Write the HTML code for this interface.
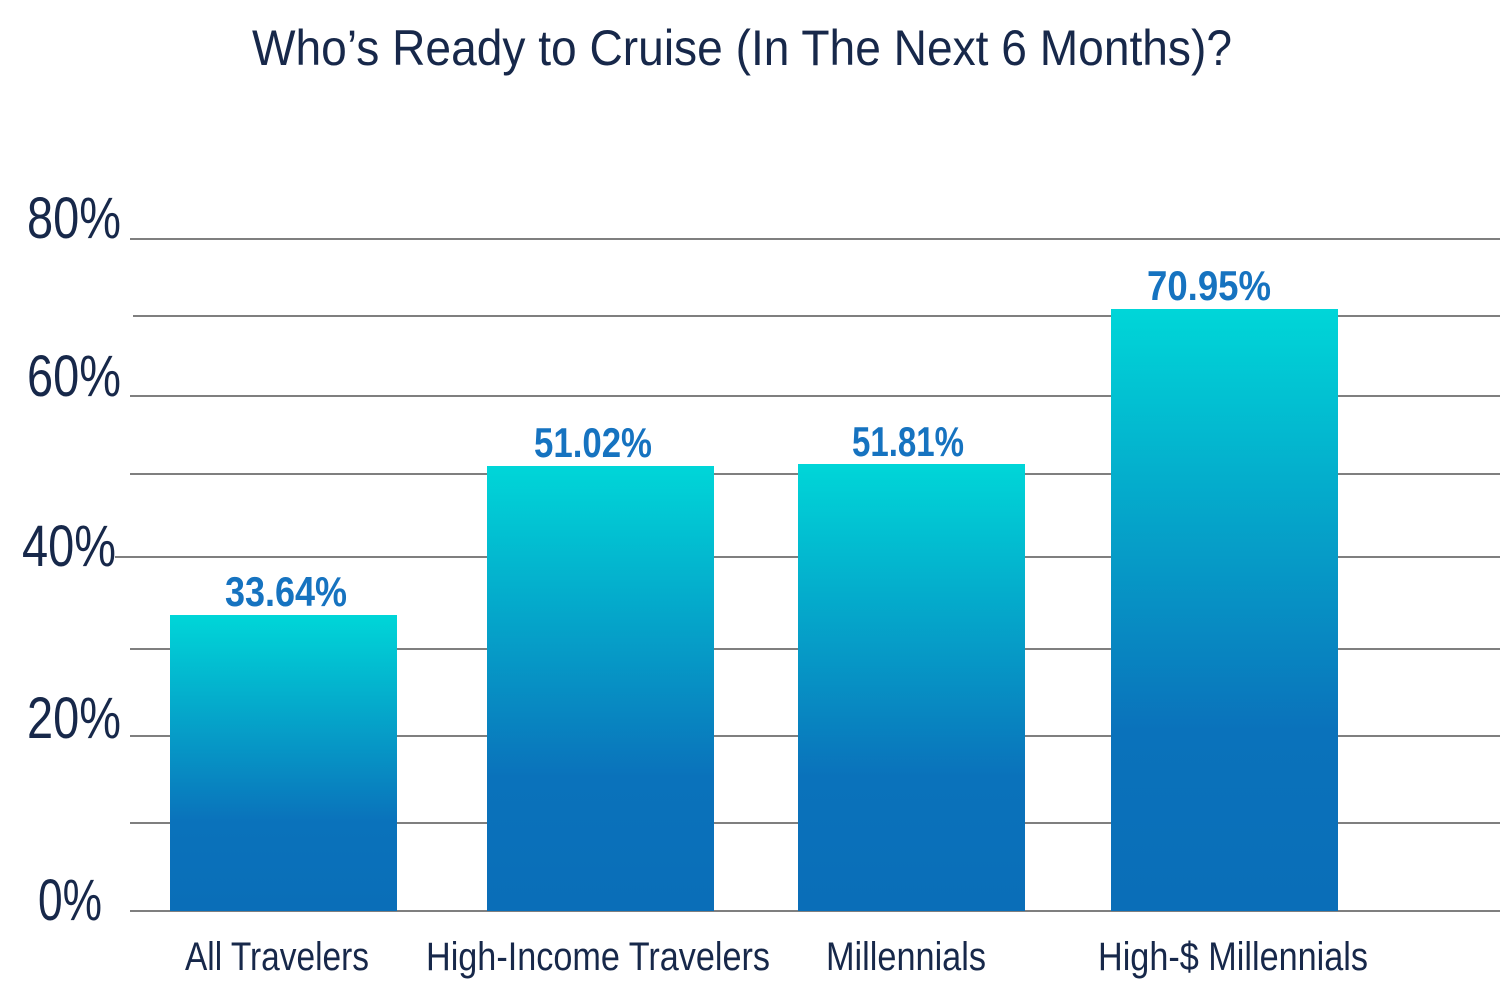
<!DOCTYPE html>
<html><head><meta charset="utf-8"><style>
html,body{margin:0;padding:0;background:#fff;}
svg{display:block;}
text{font-family:"Liberation Sans Narrow","Liberation Sans",sans-serif;}
</style></head><body>
<svg width="1500" height="987" viewBox="0 0 1500 987" xmlns="http://www.w3.org/2000/svg">
<defs>
<linearGradient id="g1" x1="0" y1="0" x2="0" y2="1">
<stop offset="0" stop-color="#00d6d8"/><stop offset="0.7" stop-color="#0a72bb"/><stop offset="1" stop-color="#0a6eb8"/>
</linearGradient>
<linearGradient id="g2" x1="0" y1="0" x2="0" y2="1">
<stop offset="0" stop-color="#00d6d8"/><stop offset="0.7" stop-color="#0a72bb"/><stop offset="1" stop-color="#0a6eb8"/>
</linearGradient>
</defs>
<text x="742" y="65" text-anchor="middle" font-size="50" fill="#17284a" textLength="980" lengthAdjust="spacingAndGlyphs">Who’s Ready to Cruise (In The Next 6 Months)?</text>
<g stroke="#555" stroke-width="1.5">
<line x1="130" y1="239" x2="1500" y2="239"/>
<line x1="133" y1="316" x2="1500" y2="316"/>
<line x1="130" y1="396" x2="1500" y2="396"/>
<line x1="130" y1="474" x2="1500" y2="474"/>
<line x1="115" y1="557" x2="1500" y2="557"/>
<line x1="130" y1="649" x2="1500" y2="649"/>
<line x1="130" y1="736" x2="1500" y2="736"/>
<line x1="130" y1="823" x2="1500" y2="823"/>
<line x1="130" y1="911" x2="1500" y2="911"/>
</g>
<g fill="#17284a" font-size="58">
<text x="27" y="238" textLength="94" lengthAdjust="spacingAndGlyphs">80%</text>
<text x="27" y="396" textLength="94" lengthAdjust="spacingAndGlyphs">60%</text>
<text x="22" y="566" textLength="94" lengthAdjust="spacingAndGlyphs">40%</text>
<text x="27" y="738" textLength="94" lengthAdjust="spacingAndGlyphs">20%</text>
<text x="38" y="920" textLength="64" lengthAdjust="spacingAndGlyphs">0%</text>
</g>
<rect x="170" y="615" width="227" height="296" fill="url(#g1)"/>
<rect x="487" y="466" width="227" height="445" fill="url(#g1)"/>
<rect x="798" y="464" width="227" height="447" fill="url(#g1)"/>
<rect x="1111" y="309" width="227" height="602" fill="url(#g1)"/>
<g fill="#1673c0" font-size="42" font-weight="bold" text-anchor="middle">
<text x="286" y="606" textLength="122" lengthAdjust="spacingAndGlyphs">33.64%</text>
<text x="593" y="457" textLength="118" lengthAdjust="spacingAndGlyphs">51.02%</text>
<text x="908" y="456" textLength="112" lengthAdjust="spacingAndGlyphs">51.81%</text>
<text x="1209" y="300" textLength="124" lengthAdjust="spacingAndGlyphs">70.95%</text>
</g>
<g fill="#17284a" font-size="40" text-anchor="middle">
<text x="277" y="970" textLength="184" lengthAdjust="spacingAndGlyphs">All Travelers</text>
<text x="598" y="970" textLength="344" lengthAdjust="spacingAndGlyphs">High-Income Travelers</text>
<text x="906" y="970" textLength="160" lengthAdjust="spacingAndGlyphs">Millennials</text>
<text x="1233" y="970" textLength="270" lengthAdjust="spacingAndGlyphs">High-$ Millennials</text>
</g>
</svg>
</body></html>
